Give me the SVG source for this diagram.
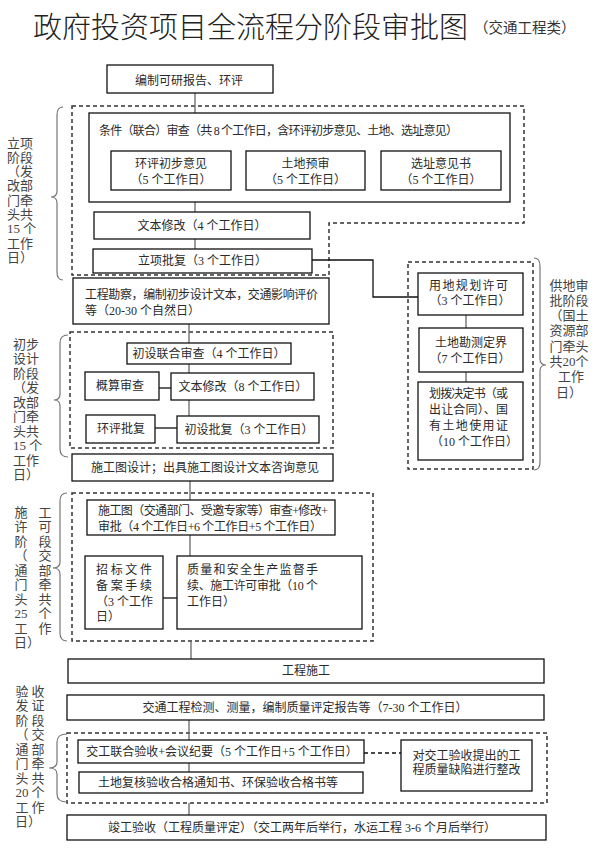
<svg xmlns="http://www.w3.org/2000/svg" width="602" height="851" viewBox="0 0 602 851">
<style>
text{font-family:"Liberation Serif","Noto Sans CJK SC",serif;fill:#2a2a2a;font-size:12px}
.title{font-family:"Noto Sans CJK SC","Liberation Sans",sans-serif;font-size:29px;fill:#222;font-weight:300}
.sub{font-family:"Liberation Serif","Noto Sans CJK SC",serif;font-size:14.5px;fill:#333}
.c{text-anchor:middle}
.lab{font-size:13px;fill:#444}
.box{fill:#fff;stroke:#111;stroke-width:1.3}
.dash{fill:none;stroke:#333;stroke-width:1.5;stroke-dasharray:4 3}
.ln{fill:none;stroke:#666;stroke-width:1.3}
.lk{fill:none;stroke:#111;stroke-width:1.3}
.brace{fill:none;stroke:#777;stroke-width:1.2}
</style>
<rect width="602" height="851" fill="#fff"/>
<text class="title" x="33" y="38">政府投资项目全流程分阶段审批图</text>
<text class="sub" x="474" y="33">（交通工程类）</text>

<!-- stage groups (dashed) -->
<g id="stage-lixiang"><path class="dash" d="M72,106 H524 V223 H329 V275 H72 Z"/></g>
<g id="stage-chubu"><rect class="dash" x="70" y="332" width="263" height="116"/></g>
<g id="stage-gongdi"><rect class="dash" x="408" y="262" width="125" height="207"/></g>
<g id="stage-shigong"><rect class="dash" x="72" y="493" width="301" height="148"/></g>
<g id="stage-yanshou"><rect class="dash" x="67" y="733" width="480" height="70"/></g>

<!-- connectors -->
<g id="connectors">
<line class="ln" x1="195" y1="93" x2="195" y2="113"/>
<path class="ln" d="M195,151 V140 H469 V151 M326,140 V151"/>
<line class="ln" x1="195" y1="202" x2="195" y2="212"/>
<line class="ln" x1="195" y1="239" x2="195" y2="249"/>
<path class="lk" d="M312,260 H373 V297 H418"/>
<line class="ln" x1="189" y1="324" x2="189" y2="343"/>
<line class="ln" x1="189" y1="364" x2="189" y2="373"/>
<line class="lk" x1="159" y1="388" x2="171" y2="388"/>
<line class="ln" x1="189" y1="400" x2="189" y2="416"/>
<line class="lk" x1="155" y1="428" x2="177" y2="428"/>
<line class="ln" x1="466" y1="315" x2="466" y2="328"/>
<line class="ln" x1="466" y1="372" x2="466" y2="382"/>
<line class="ln" x1="190" y1="481" x2="190" y2="500"/>
<line class="ln" x1="190" y1="535" x2="190" y2="556"/>
<line class="lk" x1="163" y1="598" x2="177" y2="598"/>
<line class="ln" x1="191" y1="641" x2="191" y2="659"/>
<line class="ln" x1="189" y1="720" x2="189" y2="740"/>
<line class="ln" x1="189" y1="763" x2="189" y2="772"/>
<line class="lk" x1="364" y1="753" x2="401" y2="753" stroke-dasharray="4 3"/>
<line class="ln" x1="189" y1="803" x2="189" y2="815"/>
</g>

<!-- braces -->
<g id="braces">
<path class="brace" d="M63,107 Q57,107 57,115 V191 Q57,197 51,197 Q57,197 57,203 V272 Q57,280 63,280"/>
<path class="brace" d="M68,335 Q60,335 60,343 V394 Q60,400 54,400 Q60,400 60,406 V449 Q60,457 68,457"/>
<path class="brace" d="M67,493 Q60,493 60,501 V562 Q60,568 53,568 Q60,568 60,574 V633 Q60,641 67,641"/>
<path class="brace" d="M67,734 Q57,734 57,742 V762 Q57,768 49,768 Q57,768 57,774 V794 Q57,802 67,802"/>
<path class="brace" d="M534,258 Q540,258 540,266 V359 Q540,365 546,365 Q540,365 540,371 V462 Q540,470 534,470"/>
</g>

<!-- stage labels -->
<g id="label-lixiang" class="lab">
<text class="lab" x="7" y="147.5">立项</text>
<text class="lab" x="7" y="161.8">阶段</text>
<text class="lab" x="7" y="176.1">（发</text>
<text class="lab" x="7" y="190.4">改部</text>
<text class="lab" x="7" y="204.7">门牵</text>
<text class="lab" x="7" y="219">头共</text>
<text class="lab" x="7" y="233.3">15 个</text>
<text class="lab" x="7" y="247.6">工作</text>
<text class="lab" x="7" y="261.9">日）</text>
</g>
<g id="label-chubu">
<text class="lab" x="13" y="348.5">初步</text>
<text class="lab" x="13" y="363">设计</text>
<text class="lab" x="13" y="377.5">阶段</text>
<text class="lab" x="13" y="392">（发</text>
<text class="lab" x="13" y="406.5">改部</text>
<text class="lab" x="13" y="421">门牵</text>
<text class="lab" x="13" y="435.5">头共</text>
<text class="lab" x="13" y="450">15 个</text>
<text class="lab" x="13" y="464.5">工作</text>
<text class="lab" x="13" y="479">日）</text>
</g>
<g id="label-shigong">
<text class="lab c" x="21" y="516.5">施</text><text class="lab c" x="45" y="516.5">工</text>
<text class="lab c" x="21" y="531">许</text><text class="lab c" x="45" y="531">可</text>
<text class="lab c" x="21" y="545.5">阶</text><text class="lab c" x="45" y="545.5">段</text>
<text class="lab c" x="21" y="560">（</text><text class="lab c" x="45" y="560">交</text>
<text class="lab c" x="21" y="574.5">通</text><text class="lab c" x="45" y="574.5">部</text>
<text class="lab c" x="21" y="589">门</text><text class="lab c" x="45" y="589">牵</text>
<text class="lab c" x="21" y="603.5">头</text><text class="lab c" x="45" y="603.5">共</text>
<text class="lab c" x="21" y="618">25</text><text class="lab c" x="45" y="618">个</text>
<text class="lab c" x="21" y="632.5">工</text><text class="lab c" x="45" y="632.5">作</text>
<text class="lab" x="14" y="647">日）</text>
</g>
<g id="label-yanshou">
<text class="lab c" x="22" y="695.5">验</text><text class="lab c" x="38" y="695.5">收</text>
<text class="lab c" x="22" y="710">发</text><text class="lab c" x="38" y="710">证</text>
<text class="lab c" x="22" y="724.5">阶</text><text class="lab c" x="38" y="724.5">段</text>
<text class="lab c" x="22" y="739">（</text><text class="lab c" x="38" y="739">交</text>
<text class="lab c" x="22" y="753.5">通</text><text class="lab c" x="38" y="753.5">部</text>
<text class="lab c" x="22" y="768">门</text><text class="lab c" x="38" y="768">牵</text>
<text class="lab c" x="22" y="782.5">头</text><text class="lab c" x="38" y="782.5">共</text>
<text class="lab c" x="22" y="797">20</text><text class="lab c" x="38" y="797">个</text>
<text class="lab c" x="22" y="811.5">工</text><text class="lab c" x="38" y="811.5">作</text>
<text class="lab" x="15" y="826">日）</text>
</g>
<g id="label-gongdi">
<text class="lab c" x="569" y="289.5">供地审</text>
<text class="lab c" x="569" y="304.8">批阶段</text>
<text class="lab c" x="569" y="320.1">（国土</text>
<text class="lab c" x="569" y="335.4">资源部</text>
<text class="lab c" x="569" y="350.7">门牵头</text>
<text class="lab c" x="569" y="366">共20个</text>
<text class="lab c" x="571" y="381.3">工作</text>
<text class="lab c" x="569" y="396.6">日）</text>
</g>

<!-- nodes -->
<g id="n-kexing"><rect class="box" x="107" y="65" width="166" height="28"/><text class="c" x="189" y="85">编制可研报告、环评</text></g>
<g id="n-tiaojian"><rect class="box" x="89" y="113" width="421" height="89"/><text x="99" y="135" textLength="359" lengthAdjust="spacing">条件（联合）审查（共 8 个工作日，含环评初步意见、土地、选址意见）</text></g>
<g id="n-huanping"><rect class="box" x="111" y="151" width="120" height="39"/><text class="c" x="171" y="168">环评初步意见</text><text class="c" x="171" y="184">（5 个工作日）</text></g>
<g id="n-tudiyushen"><rect class="box" x="246" y="151" width="119" height="39"/><text class="c" x="305.5" y="168">土地预审</text><text class="c" x="305.5" y="184">（5 个工作日）</text></g>
<g id="n-xuanzhi"><rect class="box" x="381" y="151" width="120" height="39"/><text class="c" x="441" y="168">选址意见书</text><text class="c" x="441" y="184">（5 个工作日）</text></g>
<g id="n-wenben1"><rect class="box" x="94" y="212" width="216" height="27"/><text class="c" x="202" y="229.5">文本修改（4 个工作日）</text></g>
<g id="n-lixiangpifu"><rect class="box" x="93" y="249" width="219" height="24"/><text class="c" x="202.5" y="265">立项批复（3 个工作日）</text></g>
<g id="n-kancha"><rect class="box" x="73" y="278" width="256" height="46"/><text x="85" y="299" textLength="233" lengthAdjust="spacing">工程勘察，编制初步设计文本，交通影响评价</text><text x="85" y="315">等（20-30 个自然日）</text></g>
<g id="n-chushenlianhe"><rect class="box" x="127" y="343" width="164" height="21"/><text class="c" x="209" y="357.5">初设联合审查（4 个工作日）</text></g>
<g id="n-gaisuan"><rect class="box" x="85" y="372" width="74" height="28"/><text x="96" y="390">概算审查</text></g>
<g id="n-wenben2"><rect class="box" x="171" y="373" width="143" height="27"/><text class="c" x="243" y="390.5">文本修改（8 个工作日）</text></g>
<g id="n-huanpingpifu"><rect class="box" x="86" y="415" width="69" height="28"/><text class="c" x="121" y="433">环评批复</text></g>
<g id="n-chushepifu"><rect class="box" x="177" y="416" width="142" height="27"/><text class="c" x="249" y="433.5">初设批复（3 个工作日）</text></g>
<g id="n-shigongtu"><rect class="box" x="72" y="454" width="261" height="27"/><text class="c" x="205" y="471.5">施工图设计；出具施工图设计文本咨询意见</text></g>
<g id="n-yongdi"><rect class="box" x="418" y="273" width="105" height="42"/><text x="429" y="289.5" textLength="79" lengthAdjust="spacing">用地规划许可</text><text class="c" x="470" y="304.5">（3 个工作日）</text></g>
<g id="n-kance"><rect class="box" x="419" y="328" width="104" height="44"/><text class="c" x="471" y="346.5">土地勘测定界</text><text class="c" x="470" y="362.5">（7 个工作日）</text></g>
<g id="n-huabo"><rect class="box" x="418" y="382" width="105" height="78"/><text x="429" y="397.5" textLength="79" lengthAdjust="spacing">划拨决定书（或</text><text x="429" y="413.5" textLength="79" lengthAdjust="spacing">出让合同）、国</text><text x="429" y="429.5" textLength="79" lengthAdjust="spacing">有土地使用证</text><text x="431" y="446">（10 个工作日）</text></g>
<g id="n-shigongtushencha"><rect class="box" x="87" y="500" width="248" height="35"/><text x="98" y="514.5" textLength="230" lengthAdjust="spacing">施工图（交通部门、受邀专家等）审查+修改+</text><text x="98" y="530.5" textLength="224" lengthAdjust="spacing">审批（4 个工作日+6 个工作日+5 个工作日）</text></g>
<g id="n-zhaobiao"><rect class="box" x="85" y="556" width="78" height="73"/><text x="96" y="574" textLength="56" lengthAdjust="spacing">招标文件</text><text x="96" y="590" textLength="56" lengthAdjust="spacing">备案手续</text><text x="96" y="605.5">（3 个工作</text><text x="96" y="621">日）</text></g>
<g id="n-zhiliang"><rect class="box" x="177" y="556" width="185" height="73"/><text x="187" y="574" textLength="131" lengthAdjust="spacing">质量和安全生产监督手</text><text x="187" y="590" textLength="131" lengthAdjust="spacing">续、施工许可审批（10 个</text><text x="187" y="605.5">工作日）</text></g>
<g id="n-shigong"><rect class="box" x="68" y="659" width="476" height="24"/><text class="c" x="306" y="675">工程施工</text></g>
<g id="n-jiance"><rect class="box" x="67" y="695" width="477" height="25"/><text class="c" x="305" y="711.5">交通工程检测、测量，编制质量评定报告等（7-30 个工作日）</text></g>
<g id="n-jiaogong"><rect class="box" x="78" y="740" width="286" height="23"/><text class="c" x="222" y="755.5">交工联合验收+会议纪要（5 个工作日+5 个工作日）</text></g>
<g id="n-tudifuhe"><rect class="box" x="79" y="772" width="284" height="21"/><text class="c" x="218" y="786.5">土地复核验收合格通知书、环保验收合格书等</text></g>
<g id="n-zhenggai"><rect class="box" x="401" y="740" width="131" height="51"/><text class="c" x="466.5" y="760">对交工验收提出的工</text><text class="c" x="466.5" y="774">程质量缺陷进行整改</text></g>
<g id="n-jungong"><rect class="box" x="67" y="815" width="479" height="25"/><text class="c" x="302" y="832">竣工验收（工程质量评定）（交工两年后举行，水运工程 3-6 个月后举行）</text></g>
</svg>
